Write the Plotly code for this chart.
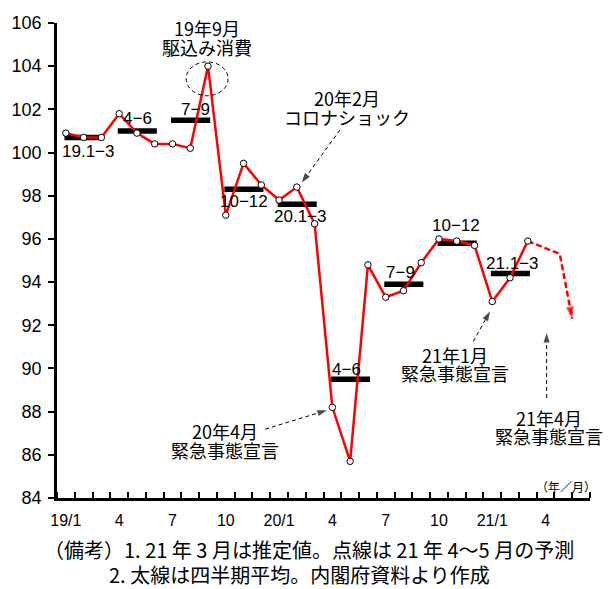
import plotly.graph_objects as go

# Monthly consumption index (2015 = 100), Jan 2019 - Mar 2021
months = list(range(27))
monthly = [100.9, 100.7, 100.7, 101.8, 100.9, 100.4, 100.4, 100.2, 104.0,
           97.1, 99.5, 98.5, 97.8, 98.4, 96.7, 88.2, 85.7, 94.8,
           93.3, 93.6, 94.9, 96.0, 95.9, 95.7, 93.1, 94.2, 95.9]

# Quarterly averages (thick bars)
quarter_names = ["19.1−3", "4−6", "7−9", "10−12", "20.1−3", "4−6", "7−9", "10−12", "21.1−3"]
quarterly = [100.7, 101.0, 101.5, 98.3, 97.6, 89.5, 93.9, 95.8, 94.4]
quarter_label_x = [1.25, 4.05, 7.3, 10.0, 13.15, 15.8, 18.85, 21.95, 25.1]
quarter_label_y = [100.05, 101.6, 101.98, 97.72, 97.04, 89.95, 94.46, 96.62, 94.88]

# Forecast for Apr-May 2021 (dashed)
forecast_x = [26, 27.8, 28.5]
forecast = [95.9, 95.3, 92.3]

# Axis ticks
tick_pos = [0, 3, 6, 9, 12, 15, 18, 21, 24, 27]
tick_text = ["19/1", "4", "7", "10", "20/1", "4", "7", "10", "21/1", "4"]
y_ticks = list(range(84, 107, 2))

JP = "Noto Sans CJK JP"
NUM = "Liberation Sans"

fig = go.Figure()

# quarterly average bars
for k, q in enumerate(quarterly):
    fig.add_trace(go.Scatter(
        x=[3 * k - 0.08, 3 * k + 2.12], y=[q, q], mode="lines",
        line=dict(color="black", width=5.5), hoverinfo="skip", showlegend=False))

# forecast dashed line with arrow head
fig.add_trace(go.Scatter(
    x=forecast_x, y=forecast, mode="lines+markers",
    line=dict(color="#ff0000", width=2.5, dash="6px,3px"),
    marker=dict(symbol="arrow", size=[0, 0, 13], color="#ff0000",
                angleref="previous", line=dict(width=0)),
    hoverinfo="skip", showlegend=False))

# monthly line
fig.add_trace(go.Scatter(
    x=months, y=monthly, mode="lines+markers",
    line=dict(color="#ff0000", width=2.5),
    marker=dict(symbol="circle", size=6.5, color="white",
                line=dict(color="black", width=1)),
    showlegend=False))

# dashed pointer arrows for the event notes
pointers = [
    ([15.43, 13.28], [101.05, 98.61]),   # 20年2月 コロナショック
    ([11.22, 14.69], [87.19, 88.06]),    # 20年4月 緊急事態宣言
    ([22.93, 23.87], [91.25, 92.64]),    # 21年1月 緊急事態宣言
    ([27.06, 27.06], [88.63, 91.64]),    # 21年4月 緊急事態宣言
]
for px, py in pointers:
    fig.add_trace(go.Scatter(
        x=px, y=py, mode="lines+markers",
        line=dict(color="black", width=1, dash="4px,3px"),
        marker=dict(symbol="arrow", size=[0, 10], color="black",
                    angleref="previous", line=dict(width=0)),
        hoverinfo="skip", showlegend=False))

annotations = []


def note(text, x, y, size=18, font=JP, xanchor="center", xref="x", yref="y"):
    annotations.append(dict(
        text=text, x=x, y=y, xref=xref, yref=yref, showarrow=False,
        xanchor=xanchor, yanchor="middle",
        font=dict(family=font, size=size, color="black")))


for name, lx, ly in zip(quarter_names, quarter_label_x, quarter_label_y):
    note(name, lx, ly, size=17, font=NUM)

note("（15年=100）", -0.2, 106.28, size=13, xanchor="left")
note("19年9月", 7.95, 105.78)
note("駆込み消費", 7.95, 104.9)
note("20年2月", 15.82, 102.53)
note("コロナショック", 15.82, 101.66)
note("20年4月", 8.97, 87.12)
note("緊急事態宣言", 8.97, 86.24)
note("21年1月", 21.9, 90.63)
note("緊急事態宣言", 21.9, 89.79)
note("21年4月", 27.2, 87.7)
note("緊急事態宣言", 27.2, 86.85)
note("（年／月）", 28.15, 84.52, size=12)

note("（備考）1. 21 年 3 月は推定値。点線は 21 年 4～5 月の予測", -0.028, -0.108,
     size=20, xanchor="left", xref="paper", yref="paper")
note("2. 太線は四半期平均。内閣府資料より作成", 0.093, -0.161,
     size=20, xanchor="left", xref="paper", yref="paper")

fig.update_layout(
    width=614, height=589,
    margin=dict(l=57, r=24, t=23, b=91),
    paper_bgcolor="white", plot_bgcolor="white",
    annotations=annotations,
    shapes=[dict(type="circle", xref="x", yref="y",
                 x0=6.77, x1=9.13, y0=102.63, y1=104.2,
                 line=dict(color="black", width=1, dash="4px,3px"))],
    xaxis=dict(
        range=[-0.5, 29.5], tickmode="array", tickvals=tick_pos, ticktext=tick_text,
        ticks="", showgrid=False, zeroline=False,
        showline=True, linecolor="black", linewidth=2.5,
        tickfont=dict(family=NUM, size=16, color="black"),
        ticklabelstandoff=6,
        minor=dict(tickmode="linear", tick0=-0.5, dtick=1, ticks="inside",
                   ticklen=6, tickwidth=2, tickcolor="black", showgrid=False),
    ),
    yaxis=dict(
        range=[84, 106], tickmode="array", tickvals=y_ticks,
        ticks="outside", ticklen=6, tickwidth=2, tickcolor="black",
        showgrid=False, zeroline=False,
        showline=True, linecolor="black", linewidth=2.5,
        tickfont=dict(family=NUM, size=18, color="black"),
        ticklabelstandoff=3,
    ),
)

fig.write_html("out.html")
